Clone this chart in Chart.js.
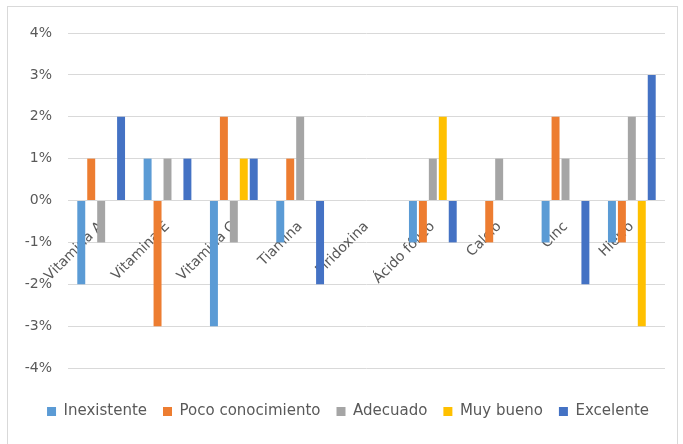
<!DOCTYPE html>
<html>
<head>
<meta charset="utf-8">
<title>Conocimiento de vitaminas y minerales</title>
<style>
  html, body { margin: 0; padding: 0; background: #fff; }
  #frame { position: absolute; left: 7px; top: 6px; width: 669px; height: 460px; border: 1px solid #d9d9d9; }
  #container { position: absolute; left: 0; top: 0; width: 683px; height: 444px; }
</style>
</head>
<body>
<div id="frame"></div>
<div id="container"><canvas id="canvas"></canvas></div>
<script src="https://cdn.jsdelivr.net/npm/chart.js@4.4.1/dist/chart.umd.min.js"></script>
<script>
const categories = ['Vitamina A', 'Vitamina E', 'Vitamina C', 'Tiamina', 'Piridoxina', 'Ácido fólico', 'Calcio', 'Cinc', 'Hierro'];
const inexistente = [-2, 1, -3, -1, 0, -1, 0, -1, -1];
const pocoConocimiento = [1, -3, 2, 1, 0, -1, -1, 2, -1];
const adecuado = [-1, 1, -1, 2, 0, 1, 1, 1, 2];
const muyBueno = [0, 0, 1, 0, 0, 2, 0, 0, -3];
const excelente = [2, 1, 1, -2, 0, -1, 0, -2, 3];

const textColor = '#595959';
const tickFont = { family: 'DejaVu Sans', size: 14 };
const legendFont = { family: 'DejaVu Sans', size: 15 };

const series = [
  ['Inexistente', inexistente, '#5B9BD5'],
  ['Poco conocimiento', pocoConocimiento, '#ED7D31'],
  ['Adecuado', adecuado, '#A5A5A5'],
  ['Muy bueno', muyBueno, '#FFC000'],
  ['Excelente', excelente, '#4472C4'],
];

new Chart(document.getElementById('canvas'), {
  type: 'bar',
  data: {
    labels: categories,
    datasets: series.map(([label, data, color]) => ({
      label,
      data,
      backgroundColor: color,
      borderWidth: 0,
      categoryPercentage: 0.75,
      barPercentage: 0.8,
    })),
  },
  options: {
    responsive: true,
    maintainAspectRatio: false,
    animation: false,
    layout: { padding: { left: 0, right: 18, top: 33, bottom: 15 } },
    plugins: {
      tooltip: { enabled: false },
      legend: {
        position: 'bottom',
        align: 'end',
        // empty title keeps the legend clear of the bottom of the plot
        title: { display: true, text: '', font: legendFont, padding: { top: 0, bottom: 2 } },
        labels: { color: textColor, font: legendFont, boxWidth: 9, boxHeight: 9, padding: 16 },
      },
    },
    scales: {
      x: {
        position: { y: 0 },
        grid: { display: false },
        border: { display: false },
        ticks: { color: textColor, font: tickFont, minRotation: 45, maxRotation: 45, autoSkip: false, padding: 10 },
      },
      y: {
        min: -4,
        max: 4,
        afterFit: (scale) => { scale.width = 68; },
        grid: { color: '#D9D9D9', drawTicks: false },
        border: { display: false },
        ticks: { stepSize: 1, color: textColor, font: tickFont, padding: 16, callback: (v) => v + '%' },
      },
    },
  },
});
</script>
</body>
</html>
